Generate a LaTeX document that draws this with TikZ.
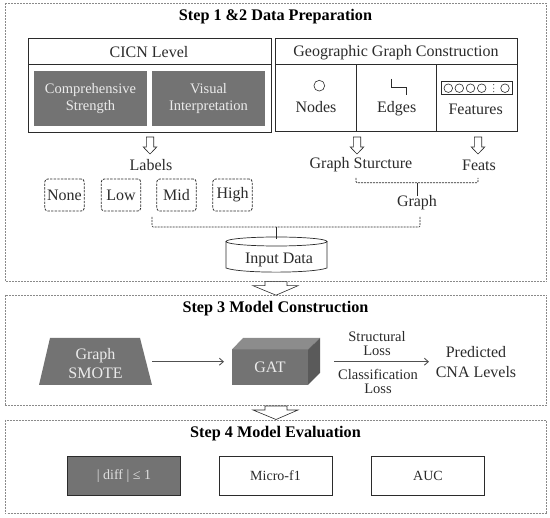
\documentclass[tikz,border=0pt]{standalone}
\usepackage{fontspec}
\setmainfont{Liberation Serif}
\usetikzlibrary{arrows.meta}
\definecolor{dg}{HTML}{737373}
\definecolor{fr}{HTML}{8A8A8A}
\definecolor{ink}{HTML}{2B2B2B}
\tikzset{x=1pt,y=-1pt,
 panel/.style={draw=fr,dash pattern=on 2pt off 1pt,line width=.55pt},
 box/.style={draw=ink,line width=.9pt,fill=white},
 rule/.style={draw=ink,line width=.8pt},
 gbox/.style={fill=dg,draw=none,minimum width=113pt,minimum height=54.5pt,inner sep=0,font=\fontsize{14.5}{17}\selectfont,align=center,text=white!92!black},
 tx/.style={font=\fontsize{16}{17}\selectfont,align=center,text=ink,inner sep=0},
 sm/.style={font=\fontsize{14.5}{14}\selectfont,align=center,text=ink,inner sep=0},
 wt/.style={align=center,text=white!92!black,inner sep=0},
 ttl/.style={font=\fontsize{16.2}{18}\selectfont\bfseries,inner sep=0,text=black},
 lvl/.style={draw=ink,dash pattern=on 2.4pt off 1.2pt,rounded corners=3pt,line width=.8pt,minimum width=39.5pt,minimum height=32pt,inner sep=0,font=\fontsize{16}{17}\selectfont,text=ink},
 blk/.style={draw=ink,line width=.6pt,fill=white},
 brk/.style={draw=ink,dash pattern=on 2pt off 1pt,line width=.7pt,rounded corners=1pt},
 stem/.style={draw=ink,line width=.6pt},
 dn/.style={draw=ink,line width=.6pt,fill=white},
 flow/.style={draw=dg!70!black,line width=1.3pt,-{Straight Barb[length=4pt,width=7pt,line width=.9pt]}},
 ebox/.style={draw=ink,line width=.9pt,fill=white,minimum width=113pt,minimum height=38.5pt,inner sep=0,font=\fontsize{14}{16}\selectfont,text=ink}
}
\newcommand{\dnarrow}[2]{\draw[dn] (#1-3.7,#2) -- (#1+3.7,#2) -- (#1+3.7,#2+10) -- (#1+6.8,#2+10) -- (#1,#2+17) -- (#1-6.8,#2+10) -- (#1-3.7,#2+10) -- cycle;}
\newcommand{\bigarrow}[1]{\draw[blk,line width=.6pt] (265,#1) -- (287,#1) -- (287,#1+4) -- (298,#1+4) -- (276,#1+13.5) -- (253,#1+4) -- (265,#1+4) -- cycle;}
\begin{document}
\begin{tikzpicture}
\useasboundingbox (0,0) rectangle (550,518);
% panels
\draw[panel] (5,3.5) rectangle (546.7,281.7);
\draw[panel] (5,295) rectangle (546.7,405.7);
\draw[panel] (5,420) rectangle (546.7,513.5);
\bigarrow{281.7}
\bigarrow{406}
\node[ttl] (t1) at (275.5,17) {Step 1 \&2 Data Preparation};
\node[ttl] (t3) at (275.5,309) {Step 3 Model Construction};
\node[ttl] (t4) at (275.5,434) {Step 4 Model Evaluation};
% CICN
\draw[box] (28,38) rectangle (271,132);
\draw[rule] (28,64.5) -- (271,64.5);
\node[tx] (c) at (149,52) {CICN Level};
\node[gbox] (cs) at (90.5,98.5) {Comprehensive\\Strength};
\node[gbox] (vi) at (208.5,98.5) {Visual\\Interpretation};
% Geo
\draw[box] (275,38) rectangle (517.5,131.5);
\draw[rule] (275,64.5) -- (517.5,64.5);
\draw[rule] (356,64.5) -- (356,131.5);
\draw[rule] (436.5,64.5) -- (436.5,131.5);
\node[tx] (g) at (396,52.5) {Geographic Graph Construction};
\draw[blk] (319.3,85.7) circle (5.4);
\node[tx] (n) at (316,107) {Nodes};
\draw[blk,fill=none] (391.7,79) -- (391.7,87.5) -- (406,87.5) -- (406,95.5);
\node[tx] (e) at (396.7,108.5) {Edges};
\draw[blk,line width=.8pt] (441.7,81.7) rectangle (512.7,94.7);
\foreach \cx in {448.3,459.3,470.5,481.7,505}{\draw[blk] (\cx,88.2) circle (4.3);}
\foreach \cy in {84.7,88.2,91.7}{\fill[ink] (493.7,\cy) circle (.55);}
\node[tx] (f) at (475.7,109.5) {Features};
% arrows
\dnarrow{150}{137}
\dnarrow{357}{137}
\dnarrow{478}{137}
% labels
\node[tx] (lb) at (151,165) {Labels};
\node[tx] (gs) at (361,165) {Graph Sturcture};
\node[tx] (ft) at (479,165) {Feats};
\node[tx] (gr) at (417,203) {Graph};
\node[lvl] (none) at (64.5,195) {None};
\node[lvl] (low) at (121,195) {Low};
\node[lvl] (mid) at (176.5,195) {Mid};
\node[lvl] (high) at (232.5,195) {High};
% cylinder
\draw[blk,line width=.7pt] (226,241.5) -- (226,268) .. controls (240,273.5) and (312,273.5) .. (327,268) -- (327,241.5);
\draw[blk,line width=.7pt] (276.5,241.5) ellipse (50.5 and 4.5);
\node[tx] (in) at (279,259.5) {Input Data};
\coordinate (cyl) at (276.5,239);
% brackets
\coordinate (bL) at (356,178);
\coordinate (bR) at (478,178);
\coordinate (bM) at (417,182.7);
\draw[brk] (bL) -- (356,182.7) -- (478,182.7) -- (bR);
\draw[stem] (bM) -- (gr.north);
\coordinate (aL) at (152,217);
\coordinate (aR) at (420,217);
\coordinate (aM) at (276.5,227);
\draw[brk] (aL) -- (152,227) -- (420,227) -- (aR);
\draw[stem] (aM) -- (cyl);
% step 3
\fill[dg] (50,338) -- (140,338) -- (152,385) -- (39,385) -- cycle;
\coordinate (smR) at (152,361.7);
\node[wt,font=\fontsize{16}{19}\selectfont] (gsm) at (95.5,363.5) {Graph\\SMOTE};
% GAT
\fill[dg] (232,349.5) rectangle (308,385);
\fill[dg!82!white] (232,349.5) -- (243,338) -- (320,338) -- (308,349.5) -- cycle;
\fill[dg!78!black] (308,349.5) -- (320,338) -- (320,373) -- (308,385) -- cycle;
\node[wt,font=\fontsize{16}{18}\selectfont] (gat) at (270,367) {GAT};
\coordinate (gatL) at (224,361.7);
\coordinate (gatR) at (334,361.7);
\coordinate (pred) at (429,361.7);
\draw[flow] (smR) -- (gatL);
\draw[flow] (gatR) -- (pred);
\node[sm] (sl) at (377,344) {Structural\\Loss};
\node[sm] (cl) at (378,381) {Classification\\Loss};
\node[tx,font=\fontsize{16}{20}\selectfont] (pc) at (476,362) {Predicted\\CNA Levels};
% step 4
\node[ebox,fill=dg,text=white!88!black] (d) at (124,476) {| diff | ≤ 1};
\node[ebox] (m) at (275.5,476) {Micro-f1};
\node[ebox] (a) at (428,476) {AUC};
\end{tikzpicture}
\end{document}
